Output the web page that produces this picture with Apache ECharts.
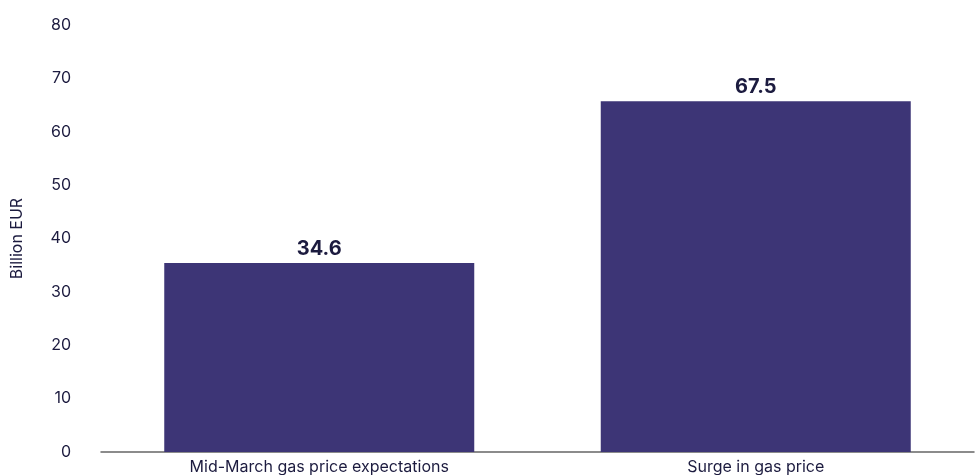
<!DOCTYPE html>
<html>
<head>
<meta charset="utf-8">
<script src="https://cdn.jsdelivr.net/npm/echarts@6/dist/echarts.min.js"></script>
<style>
html, body { margin: 0; padding: 0; background: #fff; }
#chart { width: 978px; height: 475px; }
</style>
</head>
<body>
<div id="chart"></div>
<script>
// values
var categories = ['Mid-March gas price expectations', 'Surge in gas price'];
var barValues = [35.4, 65.7];
var barLabels = ['34.6', '67.5'];
var yTicks = { min: 0, max: 80, interval: 10 };

var chart = echarts.init(document.getElementById('chart'));
var textColor = '#1c1b3f';

var option = {
  backgroundColor: '#fff',
  textStyle: { fontFamily: 'Inter' },
  grid: { left: 101, right: 4, top: 25, bottom: 23 },
  xAxis: {
    type: 'category',
    data: categories,
    axisTick: { show: false },
    axisLine: { lineStyle: { color: '#666', width: 1.5 } },
    axisLabel: { color: textColor, fontSize: 16, margin: 7, fontFamily: 'Inter' }
  },
  yAxis: {
    type: 'value',
    min: yTicks.min,
    max: yTicks.max,
    interval: yTicks.interval,
    name: 'Billion EUR',
    nameLocation: 'middle',
    nameGap: 76,
    nameTextStyle: { color: textColor, fontSize: 16, fontFamily: 'Inter' },
    splitLine: { show: false },
    axisLine: { show: false },
    axisTick: { show: false },
    axisLabel: { color: textColor, fontSize: 16, margin: 30, fontFamily: 'Inter' }
  },
  series: [{
    type: 'bar',
    data: barValues,
    barWidth: 310,
    itemStyle: { color: '#3d3576' },
    label: {
      show: true,
      position: 'top',
      distance: 4,
      color: textColor,
      fontSize: 20,
      fontWeight: 'bold',
      fontFamily: 'Inter',
      formatter: function (p) { return barLabels[p.dataIndex]; }
    }
  }]
};

chart.setOption(option);
</script>
</body>
</html>
